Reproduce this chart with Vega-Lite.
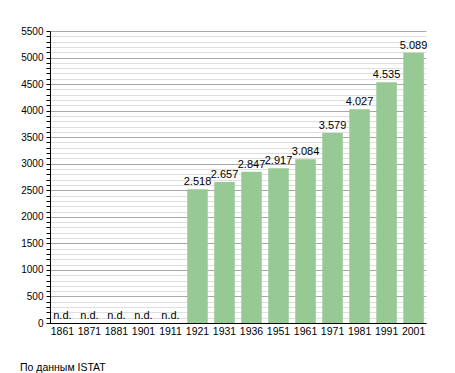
{
  "$schema": "https://vega.github.io/schema/vega-lite/v6.json",
  "autosize": "none",
  "width": 376,
  "height": 292,
  "padding": {"left": 50, "top": 31, "right": 29, "bottom": 50},
  "background": "white",
  "config": {
    "font": "Liberation Sans",
    "view": {"stroke": null},
    "mark": {"invalid": null},
    "locale": {"number": {"decimal": ",", "thousands": ".", "grouping": [3], "currency": ["", "€"]}}
  },
  "title": {"text": "По данным  ISTAT", "orient": "bottom", "anchor": "start", "frame": "group", "dx": -30, "offset": 26, "fontSize": 10.5, "fontWeight": "normal", "color": "#000"},
  "data": {"values": [
    {"year": "1861", "value": null},
    {"year": "1871", "value": null},
    {"year": "1881", "value": null},
    {"year": "1901", "value": null},
    {"year": "1911", "value": null},
    {"year": "1921", "value": 2518},
    {"year": "1931", "value": 2657},
    {"year": "1936", "value": 2847},
    {"year": "1951", "value": 2917},
    {"year": "1961", "value": 3084},
    {"year": "1971", "value": 3579},
    {"year": "1981", "value": 4027},
    {"year": "1991", "value": 4535},
    {"year": "2001", "value": 5089}
  ]},
  "encoding": {
    "x": {"field": "year", "type": "nominal",
      "scale": {"domain": ["1861","1871","1881","1901","1911","1921","1931","1936","1951","1961","1971","1981","1991","2001"], "paddingInner": 0.24, "paddingOuter": 0.08},
      "axis": {"title": null, "labelAngle": 0, "ticks": false, "labelFontSize": 10.5, "labelColor": "#000", "labelPadding": 3, "domainColor": "#000", "grid": false}},
    "y": {"field": "value", "type": "quantitative",
      "scale": {"domain": [0, 5500], "nice": false},
      "axis": {"title": null, "values": [0,100,200,300,400,500,600,700,800,900,1000,1100,1200,1300,1400,1500,1600,1700,1800,1900,2000,2100,2200,2300,2400,2500,2600,2700,2800,2900,3000,3100,3200,3300,3400,3500,3600,3700,3800,3900,4000,4100,4200,4300,4400,4500,4600,4700,4800,4900,5000,5100,5200,5300,5400,5500],
        "format": "d",
        "labelExpr": "datum.value % 500 === 0 ? datum.label : ''",
        "labelOverlap": false,
        "labelFontSize": 10, "labelColor": "#000", "labelPadding": 3,
        "tickSize": 4, "tickColor": "#000", "domainColor": "#000",
        "grid": true,
        "gridColor": {"condition": {"test": "datum.value % 500 === 0", "value": "#a8a8a8"}, "value": "#dedede"},
        "zindex": 0}
    }
  },
  "layer": [
    {
      "mark": {"type": "bar", "color": "#97c995"},
      "transform": [{"filter": "datum.value != null"}]
    },
    {
      "mark": {"type": "text", "baseline": "bottom", "dy": -2, "fontSize": 11, "color": "#000"},
      "transform": [{"filter": "datum.value != null"}],
      "encoding": {
        "text": {"field": "value", "type": "quantitative", "format": ",d"}
      }
    },
    {
      "mark": {"type": "text", "baseline": "bottom", "dy": -2, "fontSize": 11, "color": "#000", "text": "n.d."},
      "transform": [{"filter": "datum.value == null"}],
      "encoding": {
        "y": {"datum": 0, "type": "quantitative"}
      }
    }
  ]
}
